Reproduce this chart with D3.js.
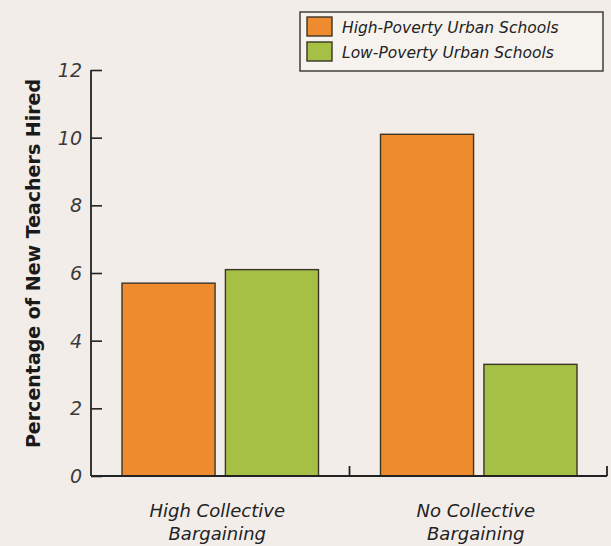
<!DOCTYPE html>
<html>
<head>
<meta charset="utf-8">
<script src="https://cdn.jsdelivr.net/npm/d3@7"></script>
<style>
  html, body { margin: 0; padding: 0; background: #f3edea; }
  svg { display: block; }
  text { font-family: "DejaVu Sans", "Noto Sans", sans-serif; }
</style>
</head>
<body>
<svg id="chart" width="611" height="546"></svg>
<script>
// Hiring rates by collective bargaining level
const categories = ["High Collective\nBargaining", "No Collective\nBargaining"];
const seriesNames = ["High-Poverty Urban Schools", "Low-Poverty Urban Schools"];
const highPoverty = [5.7, 10.1];
const lowPoverty = [6.1, 3.3];
const yTicks = [0, 2, 4, 6, 8, 10, 12];
const colors = ["#ee8b2f", "#a6c046"];

(function () {
const svg = d3.select("#chart");
const W = 611, H = 546;
const mLeft = 91, mRight = 608, mTop = 70, mBottom = 476;

svg.append("rect").attr("width", W).attr("height", H).attr("fill", "#f3edea");

const x = d3.scaleBand().domain(categories).range([mLeft, mRight]).padding(0);
const inner = d3.scaleBand().domain(seriesNames).range([31, x.bandwidth() - 31]).paddingInner(0.1);
const y = d3.scaleLinear().domain([0, 12]).range([mBottom, mTop]);

const rows = categories.map((c, i) => ({ cat: c, vals: [highPoverty[i], lowPoverty[i]] }));

// bars
const g = svg.append("g");
rows.forEach(r => {
  r.vals.forEach((v, j) => {
    g.append("rect")
      .attr("x", x(r.cat) + inner(seriesNames[j]))
      .attr("y", y(v))
      .attr("width", inner.bandwidth())
      .attr("height", y(0) - y(v))
      .attr("fill", colors[j])
      .attr("stroke", "#3b3526")
      .attr("stroke-width", 1.4);
  });
});

// y axis with inward ticks
const yAxis = d3.axisRight(y).tickValues(yTicks).tickSize(11).tickFormat("");
const ya = svg.append("g").attr("transform", `translate(${mLeft},0)`).call(yAxis);
ya.select(".domain").remove();
ya.selectAll(".tick line").attr("stroke", "#222").attr("stroke-width", 1.6);
svg.append("line").attr("x1", mLeft).attr("x2", mLeft).attr("y1", y(12)).attr("y2", mBottom)
  .attr("stroke", "#222").attr("stroke-width", 1.8);

// y tick labels
svg.append("g").selectAll("text").data(yTicks).join("text")
  .attr("x", mLeft - 9).attr("y", d => y(d))
  .attr("dy", "0.36em")
  .attr("text-anchor", "end")
  .attr("font-size", 19)
  .attr("font-style", "italic")
  .attr("fill", "#3a3a3a")
  .text(d => d);

// x axis baseline with category separators
svg.append("line").attr("x1", mLeft).attr("x2", mRight - 1).attr("y1", mBottom).attr("y2", mBottom)
  .attr("stroke", "#222").attr("stroke-width", 1.8);
categories.forEach(c => {
  const xe = x(c) + x.bandwidth() - (c === categories[categories.length - 1] ? 1 : 0);
  svg.append("line").attr("x1", xe).attr("x2", xe).attr("y1", mBottom).attr("y2", mBottom - 10)
    .attr("stroke", "#222").attr("stroke-width", 1.8);
});

// category labels
categories.forEach(c => {
  const cx = x(c) + x.bandwidth() / 2 - 3;
  const t = svg.append("text")
    .attr("x", cx)
    .attr("y", 517)
    .attr("text-anchor", "middle")
    .attr("font-size", 18)
    .attr("font-style", "italic")
    .attr("fill", "#222");
  c.split("\n").forEach((line, i) => {
    t.append("tspan").attr("x", cx).attr("dy", i === 0 ? 0 : 23).text(line);
  });
});

// y axis title
svg.append("text")
  .attr("transform", `translate(40,${(77 + 450) / 2}) rotate(-90)`)
  .attr("text-anchor", "middle")
  .attr("font-size", 19)
  .attr("font-weight", "bold")
  .attr("fill", "#1a1a1a")
  .text("Percentage of New Teachers Hired");

// legend
const lg = svg.append("g");
lg.append("rect").attr("x", 300).attr("y", 12).attr("width", 303).attr("height", 59)
  .attr("fill", "#f6f2ee").attr("stroke", "#333").attr("stroke-width", 1.4);
seriesNames.forEach((s, i) => {
  lg.append("rect").attr("x", 307).attr("y", 17 + i * 25).attr("width", 25).attr("height", 19)
    .attr("fill", colors[i]).attr("stroke", "#3b3526").attr("stroke-width", 1.4);
  lg.append("text").attr("x", 342).attr("y", 32.5 + i * 25)
    .attr("font-size", 15.5).attr("font-style", "italic").attr("fill", "#222")
    .text(s);
});
})();
</script>
</body>
</html>
